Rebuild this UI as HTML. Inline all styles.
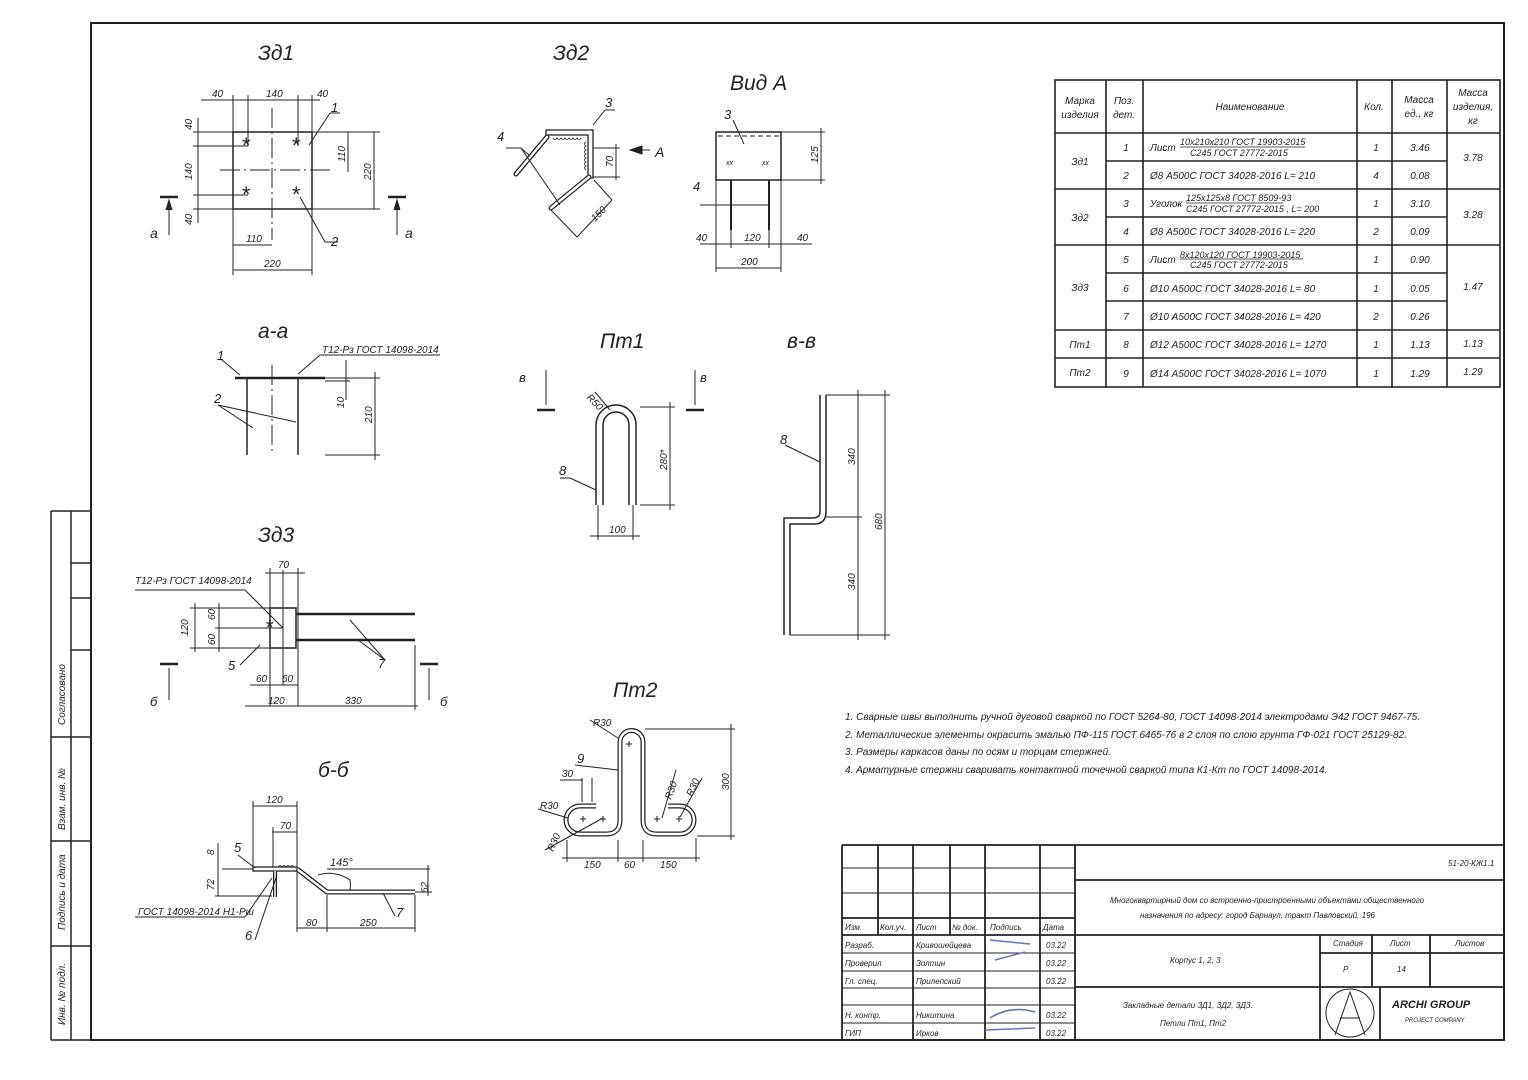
<!DOCTYPE html>
<html><head><meta charset="utf-8"><style>
html,body{margin:0;padding:0;background:#fff;}
svg{display:block;}
text{font-family:"Liberation Sans","DejaVu Sans",sans-serif;font-style:italic;fill:#222;}
</style></head><body>
<svg width="1528" height="1080" viewBox="0 0 1528 1080" xmlns="http://www.w3.org/2000/svg" stroke="#222" fill="none" stroke-width="1">
<!-- frame -->
<rect x="91" y="23" width="1413" height="1017" stroke-width="2"/>
<!-- left stamp -->
<g stroke-width="1.5">
<line x1="51" y1="511" x2="91" y2="511"/>
<line x1="51" y1="511" x2="51" y2="1040"/>
<line x1="51" y1="1040" x2="91" y2="1040"/>
<line x1="71" y1="511" x2="71" y2="1040"/>
<line x1="71" y1="563" x2="91" y2="563"/>
<line x1="71" y1="598" x2="91" y2="598"/>
<line x1="71" y1="650" x2="91" y2="650"/>
<line x1="51" y1="737" x2="91" y2="737"/>
<line x1="51" y1="841" x2="91" y2="841"/>
<line x1="51" y1="946" x2="91" y2="946"/>
</g>
<g font-size="10" stroke="none">
<text transform="translate(65,1025) rotate(-90)">Инв. № подл.</text>
<text transform="translate(65,930) rotate(-90)">Подпись и дата</text>
<text transform="translate(65,830) rotate(-90)">Взам. инв. №</text>
<text transform="translate(65,725) rotate(-90)" fill="#888">Согласовано</text>
</g>

<!-- spec table -->
<g stroke-width="1.6">
<rect x="1055" y="80" width="445" height="307"/>
<line x1="1106" y1="80" x2="1106" y2="387"/><line x1="1143" y1="80" x2="1143" y2="387"/>
<line x1="1357" y1="80" x2="1357" y2="387"/><line x1="1392" y1="80" x2="1392" y2="387"/>
<line x1="1447" y1="80" x2="1447" y2="387"/>
<line x1="1055" y1="133" x2="1500" y2="133"/>
<line x1="1106" y1="161" x2="1447" y2="161"/>
<line x1="1055" y1="189" x2="1500" y2="189"/>
<line x1="1106" y1="217" x2="1447" y2="217"/>
<line x1="1055" y1="245" x2="1500" y2="245"/>
<line x1="1106" y1="273" x2="1447" y2="273"/>
<line x1="1106" y1="301" x2="1447" y2="301"/>
<line x1="1055" y1="330" x2="1500" y2="330"/>
<line x1="1055" y1="358" x2="1500" y2="358"/>
</g>
<g font-size="10" stroke="none" text-anchor="middle">
<text x="1080" y="104">Марка</text><text x="1080" y="118">изделия</text>
<text x="1124" y="104">Поз.</text><text x="1124" y="118">дет.</text>
<text x="1250" y="110">Наименование</text>
<text x="1374" y="110">Кол.</text>
<text x="1419" y="103">Масса</text><text x="1419" y="117">ед., кг</text>
<text x="1473" y="96">Масса</text><text x="1473" y="110">изделия,</text><text x="1473" y="124">кг</text>
<text x="1080" y="165">Зд1</text><text x="1080" y="221">Зд2</text><text x="1080" y="291">Зд3</text>
<text x="1080" y="348">Пт1</text><text x="1080" y="376">Пт2</text>
<text x="1126" y="151">1</text><text x="1126" y="179">2</text><text x="1126" y="207">3</text><text x="1126" y="235">4</text>
<text x="1126" y="263">5</text><text x="1126" y="292">6</text><text x="1126" y="320">7</text><text x="1126" y="348">8</text><text x="1126" y="377">9</text>
<text x="1376" y="151">1</text><text x="1376" y="179">4</text><text x="1376" y="207">1</text><text x="1376" y="235">2</text>
<text x="1376" y="263">1</text><text x="1376" y="292">1</text><text x="1376" y="320">2</text><text x="1376" y="348">1</text><text x="1376" y="377">1</text>
<text x="1420" y="151">3.46</text><text x="1420" y="179">0.08</text><text x="1420" y="207">3.10</text><text x="1420" y="235">0.09</text>
<text x="1420" y="263">0.90</text><text x="1420" y="292">0.05</text><text x="1420" y="320">0.26</text><text x="1420" y="348">1.13</text><text x="1420" y="377">1.29</text>
<text x="1473" y="161">3.78</text><text x="1473" y="218">3.28</text><text x="1473" y="290">1.47</text>
<text x="1473" y="347">1.13</text><text x="1473" y="375">1.29</text>
</g>
<g font-size="10" stroke="none">
<text x="1150" y="151">Лист</text><text x="1180" y="145" font-size="9">10x210x210 ГОСТ 19903-2015</text><text x="1190" y="156" font-size="9">С245 ГОСТ 27772-2015</text>
<text x="1150" y="179">Ø8 А500С ГОСТ 34028-2016 L= 210</text>
<text x="1150" y="207">Уголок</text><text x="1186" y="201" font-size="9">125x125x8 ГОСТ 8509-93</text><text x="1186" y="212" font-size="9">С245 ГОСТ 27772-2015 , L= 200</text>
<text x="1150" y="235">Ø8 А500С ГОСТ 34028-2016 L= 220</text>
<text x="1150" y="263">Лист</text><text x="1180" y="258" font-size="9">8x120x120 ГОСТ 19903-2015</text><text x="1190" y="268" font-size="9">С245 ГОСТ 27772-2015</text>
<text x="1150" y="292">Ø10 А500С ГОСТ 34028-2016 L= 80</text>
<text x="1150" y="320">Ø10 А500С ГОСТ 34028-2016 L= 420</text>
<text x="1150" y="348">Ø12 А500С ГОСТ 34028-2016 L= 1270</text>
<text x="1150" y="377">Ø14 А500С ГОСТ 34028-2016 L= 1070</text>
</g>
<g stroke-width="0.8"><line x1="1180" y1="147" x2="1305" y2="147"/><line x1="1186" y1="203" x2="1283" y2="203"/><line x1="1180" y1="259" x2="1303" y2="259"/></g>

<!-- title block -->
<g stroke-width="1.8">
<line x1="842" y1="845" x2="1504" y2="845"/>
<line x1="842" y1="845" x2="842" y2="1040"/>
<line x1="1075" y1="845" x2="1075" y2="1040"/>
<line x1="1075" y1="880" x2="1504" y2="880"/>
<line x1="1075" y1="935" x2="1504" y2="935"/>
<line x1="1075" y1="987" x2="1504" y2="987"/>
<line x1="1320" y1="935" x2="1320" y2="1040"/>
<line x1="1372" y1="935" x2="1372" y2="987"/>
<line x1="1430" y1="935" x2="1430" y2="987"/>
<line x1="1320" y1="953" x2="1504" y2="953"/>
<line x1="1380" y1="987" x2="1380" y2="1040"/>
<line x1="842" y1="918" x2="1075" y2="918"/>
<line x1="842" y1="935" x2="1075" y2="935"/>
<line x1="878" y1="845" x2="878" y2="935"/><line x1="913" y1="845" x2="913" y2="1040"/>
<line x1="950" y1="845" x2="950" y2="935"/><line x1="985" y1="845" x2="985" y2="1040"/>
<line x1="1040" y1="845" x2="1040" y2="1040"/>
</g>
<g stroke-width="1">
<line x1="842" y1="868" x2="1075" y2="868"/><line x1="842" y1="893" x2="1075" y2="893"/>
<line x1="842" y1="953" x2="1075" y2="953"/><line x1="842" y1="971" x2="1075" y2="971"/>
<line x1="842" y1="988" x2="1075" y2="988"/><line x1="842" y1="1005" x2="1075" y2="1005"/>
<line x1="842" y1="1023" x2="1075" y2="1023"/>
<circle cx="1350" cy="1013" r="24"/><path d="M1335 1035 L1350 992 L1365 1035 M1340 1018 L1360 1018"/>
</g>
<g font-size="8" stroke="none" fill="#555">
<text x="845" y="930">Изм.</text><text x="880" y="930">Кол.уч.</text><text x="916" y="930">Лист</text><text x="952" y="930">№ док.</text><text x="990" y="930">Подпись</text><text x="1043" y="930">Дата</text>
<text x="845" y="948">Разраб.</text><text x="916" y="948">Кривошейцева</text><text x="1046" y="948">03.22</text>
<text x="845" y="966">Проверил</text><text x="916" y="966">Золтин</text><text x="1046" y="966">03.22</text>
<text x="845" y="984">Гл. спец.</text><text x="916" y="984">Прилепский</text><text x="1046" y="984">03.22</text>
<text x="845" y="1018">Н. контр.</text><text x="916" y="1018">Никитина</text><text x="1046" y="1018">03.22</text>
<text x="845" y="1036">ГИП</text><text x="916" y="1036">Ирков</text><text x="1046" y="1036">03.22</text>
<text x="1448" y="866">51-20-КЖ1.1</text>
<text x="1110" y="903">Многоквартирный дом со встроенно-пристроенными объектами общественного</text>
<text x="1140" y="918">назначения по адресу: город Барнаул, тракт Павловский, 196</text>
<text x="1170" y="963">Корпус 1, 2, 3</text>
<text x="1333" y="946">Стадия</text><text x="1390" y="946">Лист</text><text x="1455" y="946">Листов</text>
<text x="1343" y="972">Р</text><text x="1397" y="972">14</text>
<text x="1123" y="1008">Закладные детали ЗД1, ЗД2, ЗД3.</text><text x="1160" y="1026">Петли Пт1, Пт2</text>
<text x="1392" y="1008" font-style="normal" font-weight="bold" font-size="11">ARCHI GROUP</text>
<text x="1405" y="1022" font-size="6">PROJECT COMPANY</text>
</g>
<path d="M990 940 L1030 944 M995 960 L1025 952 M990 1018 Q1010 1005 1035 1012 M985 1030 L1035 1028" stroke="#6670c0" stroke-width="1.5"/>

<!-- notes -->
<g font-size="10" stroke="none">
<text x="845" y="720">1.   Сварные швы выполнить ручной дуговой сваркой по ГОСТ 5264-80, ГОСТ 14098-2014 электродами Э42 ГОСТ 9467-75.</text>
<text x="845" y="738">2.   Металлические элементы окрасить эмалью ПФ-115 ГОСТ 6465-76 в 2 слоя по слою грунта ГФ-021 ГОСТ 25129-82.</text>
<text x="845" y="755">3.   Размеры каркасов даны по осям и торцам стержней.</text>
<text x="845" y="773">4.   Арматурные стержни сваривать контактной точечной сваркой типа К1-Кт по ГОСТ 14098-2014.</text>
</g>

<!-- view titles -->
<g font-size="21" stroke="none">
<text x="258" y="60">Зд1</text><text x="553" y="60">Зд2</text><text x="730" y="90">Вид А</text>
<text x="258" y="338">а-а</text><text x="600" y="348">Пт1</text><text x="787" y="348">в-в</text>
<text x="258" y="542">Зд3</text><text x="613" y="697">Пт2</text><text x="318" y="777">б-б</text>
</g>

<!-- Зд1 -->
<g stroke-width="1">
<rect x="233" y="132" width="79" height="77" stroke-width="1.5"/>
<line x1="272" y1="108" x2="272" y2="240" stroke-dasharray="20,4,2,4"/>
<line x1="220" y1="170" x2="330" y2="170" stroke-dasharray="20,4,2,4"/>
<line x1="201" y1="100" x2="320" y2="100"/><line x1="233" y1="95" x2="233" y2="275"/><line x1="248" y1="95" x2="248" y2="146"/><line x1="298" y1="95" x2="298" y2="146"/><line x1="312" y1="95" x2="312" y2="275"/>
<line x1="198" y1="118" x2="198" y2="223"/><line x1="193" y1="132" x2="233" y2="132"/><line x1="193" y1="146" x2="248" y2="146"/><line x1="193" y1="195" x2="248" y2="195"/><line x1="193" y1="209" x2="233" y2="209"/>
<line x1="348" y1="132" x2="348" y2="172"/><line x1="374" y1="132" x2="374" y2="209"/><line x1="312" y1="132" x2="380" y2="132"/><line x1="312" y1="209" x2="380" y2="209"/>
<line x1="233" y1="245" x2="272" y2="245"/><line x1="233" y1="270" x2="312" y2="270"/>
<line x1="160" y1="197" x2="178" y2="197" stroke-width="2.5"/><line x1="169" y1="200" x2="169" y2="235"/>
<line x1="388" y1="197" x2="406" y2="197" stroke-width="2.5"/><line x1="397" y1="200" x2="397" y2="235"/>
<path d="M166 210 L169 200 L172 210" fill="#222"/><path d="M394 210 L397 200 L400 210" fill="#222"/>
<line x1="309" y1="145" x2="330" y2="113"/><line x1="330" y1="113" x2="340" y2="113"/>
<line x1="300" y1="197" x2="325" y2="242"/><line x1="325" y1="242" x2="338" y2="242"/>
</g>
<g font-size="22" stroke="none" fill="#444"><text x="241" y="153">*</text><text x="291" y="153">*</text><text x="241" y="202">*</text><text x="291" y="202">*</text></g>
<g font-size="10" stroke="none">
<text x="212" y="97">40</text><text x="266" y="97">140</text><text x="317" y="97">40</text>
<text transform="translate(192,130) rotate(-90)">40</text><text transform="translate(192,180) rotate(-90)">140</text><text transform="translate(192,225) rotate(-90)">40</text>
<text transform="translate(345,162) rotate(-90)">110</text><text transform="translate(371,180) rotate(-90)">220</text>
<text x="246" y="242">110</text><text x="264" y="267">220</text>
<text x="150" y="238" font-size="14">а</text><text x="405" y="238" font-size="14">а</text>
<text x="331" y="112" font-size="13">1</text><text x="331" y="246" font-size="13">2</text>
</g>

<!-- Зд2 -->
<g stroke-width="1">
<path d="M546 130 L593 130 L593 178 L588 178 L588 135 L546 135 Z" stroke-width="1.3"/>
<path d="M547 137 L516 174 M589 177 L551 208" stroke-width="5" stroke-linecap="round"/>
<path d="M547 137 L516 174 M589 177 L551 208" stroke-width="2.5" stroke="#fff" stroke-linecap="round"/>
<path d="M553 138 q2 3 4 0 q2 3 4 0 q2 3 4 0 q2 3 4 0 q2 3 4 0 q2 3 4 0 q2 3 4 0" stroke-width="0.8"/>
<path d="M586 142 q-3 2 0 4 q-3 2 0 4 q-3 2 0 4 q-3 2 0 4 q-3 2 0 4 q-3 2 0 4 q-3 2 0 4" stroke-width="0.8"/>
<line x1="521" y1="148" x2="560" y2="205"/><line x1="521" y1="148" x2="530" y2="156"/><line x1="521" y1="148" x2="506" y2="148"/>
<line x1="593" y1="125" x2="605" y2="110"/><line x1="605" y1="110" x2="615" y2="110"/>
<line x1="593" y1="148" x2="620" y2="148"/><line x1="593" y1="177" x2="620" y2="177"/><line x1="616" y1="144" x2="616" y2="180"/>
<line x1="594" y1="180" x2="612" y2="200"/><line x1="551" y1="210" x2="577" y2="237"/><line x1="577" y1="237" x2="612" y2="200"/>
<line x1="632" y1="150" x2="650" y2="150"/><path d="M630 150 L642 146 L642 154 Z" fill="#222"/>
</g>
<g font-size="10" stroke="none">
<text x="605" y="107" font-size="13">3</text><text x="497" y="141" font-size="13">4</text><text x="655" y="157" font-size="14">А</text>
<text transform="translate(613,167) rotate(-90)">70</text><text transform="translate(595,222) rotate(-45)">150</text>
</g>
<!-- Вид А -->
<g stroke-width="1">
<rect x="716" y="132" width="65" height="48" stroke-width="1.5"/>
<line x1="718" y1="136" x2="779" y2="136" stroke-dasharray="5,3"/>
<line x1="731" y1="180" x2="731" y2="230" stroke-width="2"/><line x1="769" y1="180" x2="769" y2="230" stroke-width="2"/>
<line x1="700" y1="244" x2="812" y2="244"/><line x1="716" y1="180" x2="716" y2="272"/><line x1="781" y1="180" x2="781" y2="272"/>
<line x1="731" y1="230" x2="731" y2="248"/><line x1="769" y1="230" x2="769" y2="248"/>
<line x1="716" y1="268" x2="781" y2="268"/>
<line x1="781" y1="132" x2="825" y2="132"/><line x1="781" y1="180" x2="825" y2="180"/><line x1="821" y1="128" x2="821" y2="184"/>
<line x1="700" y1="205" x2="770" y2="205"/><line x1="733" y1="120" x2="744" y2="144"/>
</g>
<g font-size="10" stroke="none">
<text x="724" y="119" font-size="13">3</text><text x="693" y="191" font-size="13">4</text>
<text x="696" y="241">40</text><text x="744" y="241">120</text><text x="797" y="241">40</text><text x="741" y="265">200</text>
<text transform="translate(818,163) rotate(-90)">125</text>
<text x="726" y="165" font-size="7">xx</text><text x="762" y="165" font-size="7">xx</text>
</g>

<!-- а-а -->
<g stroke-width="1">
<line x1="235" y1="378" x2="325" y2="378" stroke-width="2.5"/>
<line x1="247" y1="378" x2="247" y2="455" stroke-width="1.5"/><line x1="298" y1="378" x2="298" y2="455" stroke-width="1.5"/>
<line x1="272" y1="365" x2="272" y2="455" stroke-dasharray="20,4,2,4"/>
<line x1="298" y1="374" x2="320" y2="355"/><line x1="320" y1="355" x2="440" y2="355"/>
<line x1="222" y1="360" x2="240" y2="375"/>
<line x1="218" y1="405" x2="253" y2="428"/><line x1="218" y1="405" x2="296" y2="422"/>
<line x1="325" y1="378" x2="380" y2="378"/><line x1="325" y1="455" x2="380" y2="455"/><line x1="375" y1="372" x2="375" y2="460"/>
<line x1="325" y1="381" x2="350" y2="381"/><line x1="346" y1="360" x2="346" y2="400"/>
</g>
<g font-size="10" stroke="none">
<text x="322" y="353">Т12-Рз ГОСТ 14098-2014</text>
<text x="217" y="360" font-size="13">1</text><text x="214" y="403" font-size="13">2</text>
<text transform="translate(344,408) rotate(-90)">10</text><text transform="translate(372,423) rotate(-90)">210</text>
</g>

<!-- Пт1 -->
<g stroke-width="1.5">
<path d="M596 505 L596 425 A20 20 0 0 1 636 425 L636 505"/>
<path d="M603 505 L603 425 A13 13 0 0 1 629 425 L629 505"/>
<line x1="598" y1="505" x2="598" y2="540" stroke-width="1"/><line x1="633" y1="505" x2="633" y2="540" stroke-width="1"/>
<line x1="590" y1="536" x2="640" y2="536" stroke-width="1"/>
<line x1="640" y1="407" x2="675" y2="407" stroke-width="1"/><line x1="640" y1="505" x2="675" y2="505" stroke-width="1"/><line x1="670" y1="402" x2="670" y2="510" stroke-width="1"/>
<line x1="537" y1="410" x2="555" y2="410" stroke-width="2.5"/><line x1="546" y1="370" x2="546" y2="405" stroke-width="1"/>
<line x1="686" y1="410" x2="704" y2="410" stroke-width="2.5"/><line x1="695" y1="370" x2="695" y2="405" stroke-width="1"/>
<line x1="570" y1="478" x2="596" y2="490" stroke-width="1"/><line x1="560" y1="478" x2="570" y2="478" stroke-width="1"/>
<line x1="595" y1="392" x2="610" y2="410" stroke-width="1"/>
</g>
<g font-size="10" stroke="none">
<text x="519" y="382" font-size="13">в</text><text x="700" y="382" font-size="13">в</text>
<text x="559" y="475" font-size="13">8</text><text x="609" y="533">100</text>
<text transform="translate(586,398) rotate(45)">R50</text><text transform="translate(667,470) rotate(-90)">280*</text>
</g>
<!-- в-в -->
<g stroke-width="1.5">
<path d="M820 395 L820 512 Q820 518 812 518 L784 518 L784 635"/>
<path d="M826 395 L826 512 Q826 524 814 524 L790 524 L790 635"/>
<line x1="826" y1="395" x2="890" y2="395" stroke-width="1"/><line x1="826" y1="517" x2="862" y2="517" stroke-width="1"/><line x1="790" y1="635" x2="890" y2="635" stroke-width="1"/>
<line x1="858" y1="390" x2="858" y2="640" stroke-width="1"/><line x1="885" y1="390" x2="885" y2="640" stroke-width="1"/>
<line x1="785" y1="445" x2="820" y2="462" stroke-width="1"/>
</g>
<g font-size="10" stroke="none">
<text x="780" y="444" font-size="13">8</text>
<text transform="translate(855,465) rotate(-90)">340</text><text transform="translate(855,590) rotate(-90)">340</text><text transform="translate(882,530) rotate(-90)">680</text>
</g>

<!-- Зд3 -->
<g stroke-width="1">
<rect x="270" y="608" width="26" height="40" stroke-width="1.5"/>
<line x1="296" y1="614" x2="415" y2="614" stroke-width="2.5"/><line x1="296" y1="640" x2="415" y2="640" stroke-width="2.5"/>
<line x1="270" y1="568" x2="270" y2="706"/><line x1="298" y1="568" x2="298" y2="706"/><line x1="283" y1="570" x2="283" y2="685"/>
<line x1="265" y1="573" x2="305" y2="573"/>
<line x1="190" y1="608" x2="270" y2="608"/><line x1="190" y1="648" x2="270" y2="648"/><line x1="215" y1="628" x2="283" y2="628"/>
<line x1="195" y1="603" x2="195" y2="652"/><line x1="219" y1="603" x2="219" y2="652"/>
<line x1="250" y1="685" x2="298" y2="685"/><line x1="245" y1="706" x2="418" y2="706"/><line x1="415" y1="645" x2="415" y2="710"/>
<line x1="245" y1="590" x2="283" y2="628"/><line x1="245" y1="590" x2="135" y2="590"/>
<line x1="240" y1="665" x2="260" y2="645"/>
<line x1="350" y1="620" x2="385" y2="660"/><line x1="358" y1="640" x2="385" y2="660"/>
<line x1="160" y1="664" x2="178" y2="664" stroke-width="2.5"/><line x1="169" y1="668" x2="169" y2="700"/>
<line x1="420" y1="664" x2="438" y2="664" stroke-width="2.5"/><line x1="429" y1="668" x2="429" y2="700"/>
</g>
<g font-size="10" stroke="none">
<text x="135" y="584">Т12-Рз ГОСТ 14098-2014</text>
<text x="278" y="568">70</text><text transform="translate(188,636) rotate(-90)">120</text>
<text transform="translate(215,620) rotate(-90)">60</text><text transform="translate(215,645) rotate(-90)">60</text>
<text x="256" y="682">60</text><text x="282" y="682">60</text><text x="268" y="704">120</text><text x="345" y="704">330</text>
<text x="228" y="670" font-size="13">5</text><text x="378" y="668" font-size="13">7</text>
<text x="150" y="706" font-size="13">б</text><text x="440" y="706" font-size="13">б</text>
</g>
<g font-size="20" stroke="none" fill="#444"><text x="265" y="634">*</text></g>

<!-- б-б -->
<g stroke-width="1">
<rect x="253" y="867" width="44" height="4" stroke-width="1.3"/>
<line x1="222" y1="869" x2="253" y2="869"/>
<path d="M297 869 L327 892 L415 892" stroke-width="5" stroke-linejoin="round"/>
<path d="M297 869 L327 892 L415 892" stroke-width="2.5" stroke="#fff" stroke-linejoin="round"/>
<path d="M275 871 L275 897" stroke-width="4"/><path d="M275 871 L275 897" stroke-width="1.5" stroke="#fff"/>
<path d="M278 867 q2 -3 4 0 q2 -3 4 0 q2 -3 4 0 q2 -3 4 0" stroke-width="0.8"/>
<line x1="253" y1="806" x2="297" y2="806"/><line x1="253" y1="801" x2="253" y2="867"/><line x1="297" y1="801" x2="297" y2="932"/>
<line x1="272" y1="832" x2="297" y2="832"/><line x1="273" y1="827" x2="273" y2="867"/>
<line x1="297" y1="928" x2="415" y2="928"/><line x1="327" y1="895" x2="327" y2="932"/><line x1="415" y1="895" x2="415" y2="932"/>
<line x1="218" y1="843" x2="218" y2="896"/><line x1="215" y1="896" x2="272" y2="896"/>
<line x1="327" y1="869" x2="430" y2="869"/><line x1="428" y1="865" x2="428" y2="896"/><line x1="415" y1="892" x2="432" y2="892"/>
<path d="M318 875 A36 36 0 0 1 350 880 A30 30 0 0 1 350 890"/>
<line x1="238" y1="855" x2="255" y2="868"/>
<line x1="135" y1="917" x2="245" y2="917"/><line x1="245" y1="917" x2="272" y2="878"/>
<line x1="255" y1="940" x2="277" y2="875"/>
<line x1="395" y1="916" x2="383" y2="893"/>
</g>
<g font-size="10" stroke="none">
<text x="266" y="803">120</text><text x="280" y="829">70</text>
<text transform="translate(214,855) rotate(-90)">8</text><text transform="translate(214,890) rotate(-90)">72</text>
<text transform="translate(428,893) rotate(-90)">62</text>
<text x="330" y="866" font-size="11">145°</text>
<text x="306" y="926">80</text><text x="360" y="926">250</text>
<text x="138" y="915">ГОСТ 14098-2014 Н1-Рш</text>
<text x="234" y="852" font-size="13">5</text><text x="245" y="940" font-size="13">6</text><text x="396" y="917" font-size="13">7</text>
</g>

<!-- Пт2 -->
<g>
<path id="pt2" d="M596 806 L580 806 A14 14 0 0 0 580 834 L606 834 Q620 834 620 820 L620 742 A11.5 11.5 0 0 1 643 742 L643 820 Q643 834 657 834 L680 834 A14 14 0 0 0 680 806 L668 806" stroke-width="5"/>
<path d="M596 806 L580 806 A14 14 0 0 0 580 834 L606 834 Q620 834 620 820 L620 742 A11.5 11.5 0 0 1 643 742 L643 820 Q643 834 657 834 L680 834 A14 14 0 0 0 680 806 L668 806" stroke-width="2.5" stroke="#fff"/>
<g stroke-width="1">
<line x1="567" y1="840" x2="567" y2="862"/><line x1="618" y1="840" x2="618" y2="862"/><line x1="643" y1="840" x2="643" y2="862"/><line x1="696" y1="838" x2="696" y2="862"/>
<line x1="562" y1="858" x2="700" y2="858"/>
<line x1="645" y1="729" x2="735" y2="729"/><line x1="697" y1="836" x2="735" y2="836"/><line x1="731" y1="724" x2="731" y2="840"/>
<line x1="575" y1="765" x2="618" y2="770"/><line x1="590" y1="720" x2="618" y2="738"/>
<line x1="560" y1="780" x2="583" y2="780"/><line x1="582" y1="778" x2="582" y2="802"/><line x1="592" y1="778" x2="592" y2="802"/>
<line x1="538" y1="809" x2="568" y2="818"/><line x1="545" y1="850" x2="603" y2="818"/>
<line x1="662" y1="818" x2="676" y2="770"/><line x1="680" y1="817" x2="702" y2="778"/>
<path d="M626 744 h6 M629 741 v6 M580 819 h6 M583 816 v6 M600 819 h6 M603 816 v6 M654 819 h6 M657 816 v6 M676 819 h6 M679 816 v6"/>
</g>
</g>
<g font-size="10" stroke="none">
<text x="593" y="726">R30</text><text x="577" y="763" font-size="13">9</text><text x="562" y="777">30</text>
<text x="540" y="809">R30</text><text transform="translate(553,852) rotate(-65)">R30</text>
<text transform="translate(671,800) rotate(-70)">R30</text><text transform="translate(692,797) rotate(-65)">R30</text>
<text x="584" y="868">150</text><text x="624" y="868">60</text><text x="660" y="868">150</text>
<text transform="translate(729,790) rotate(-90)">300</text>
</g>
</svg>
</body></html>
